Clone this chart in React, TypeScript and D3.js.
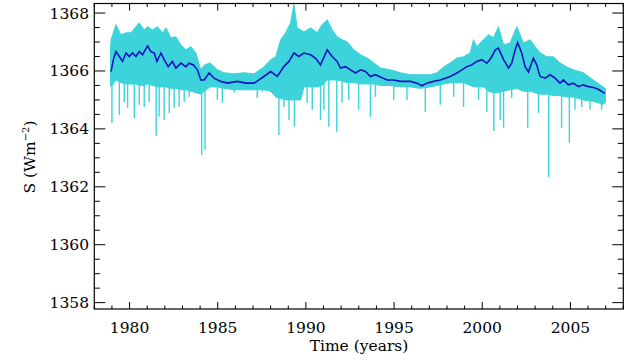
import React from 'react';
import * as d3 from 'd3';

// Smoothed (blue) series
const blueYears = [1978.95,1979.08,1979.23,1979.42,1979.60,1979.80,1979.98,1980.17,1980.36,1980.55,1980.74,1981.02,1981.21,1981.40,1981.55,1981.78,1981.96,1982.19,1982.43,1982.63,1982.91,1983.19,1983.38,1983.62,1983.85,1984.04,1984.23,1984.51,1984.79,1985.17,1985.55,1986.11,1986.59,1987.06,1987.34,1987.62,1988.00,1988.38,1988.75,1989.04,1989.32,1989.60,1989.89,1990.27,1990.55,1990.83,1991.21,1991.49,1991.77,1991.96,1992.25,1992.53,1992.81,1993.10,1993.38,1993.66,1993.94,1994.23,1994.60,1994.98,1995.36,1995.93,1996.30,1996.58,1996.86,1997.24,1997.62,1997.91,1998.19,1998.56,1998.85,1999.13,1999.41,1999.69,1999.98,2000.26,2000.49,2000.74,2000.92,2001.21,2001.49,2001.67,2001.87,2002.01,2002.24,2002.43,2002.62,2002.90,2003.09,2003.28,2003.57,2003.85,2004.13,2004.41,2004.60,2004.88,2005.17,2005.45,2005.73,2006.02,2006.30,2006.58,2006.86,2006.96];
const blueValues = [1365.98,1366.39,1366.67,1366.50,1366.33,1366.62,1366.50,1366.62,1366.50,1366.67,1366.56,1366.87,1366.67,1366.62,1366.33,1366.62,1366.39,1366.15,1366.33,1366.10,1366.27,1366.15,1366.27,1366.21,1366.04,1365.69,1365.69,1365.93,1365.75,1365.64,1365.58,1365.64,1365.58,1365.58,1365.69,1365.81,1365.98,1365.81,1366.15,1366.33,1366.62,1366.50,1366.62,1366.56,1366.44,1366.21,1366.73,1366.50,1366.33,1366.10,1366.15,1366.04,1365.93,1366.04,1365.98,1365.81,1365.87,1365.79,1365.69,1365.69,1365.64,1365.64,1365.58,1365.49,1365.58,1365.64,1365.69,1365.75,1365.81,1365.93,1366.04,1366.15,1366.21,1366.33,1366.39,1366.27,1366.44,1366.73,1366.79,1366.39,1366.10,1366.27,1366.73,1366.98,1366.62,1366.15,1365.97,1366.44,1366.21,1365.81,1365.75,1365.87,1365.75,1365.58,1365.69,1365.52,1365.58,1365.46,1365.52,1365.46,1365.43,1365.37,1365.26,1365.23];

// Daily (cyan) series: sample times, peak values, bottom of the dense band
const cyanYears = [1978.92,1978.95,1979.23,1979.51,1979.80,1980.08,1980.36,1980.55,1980.83,1981.02,1981.30,1981.58,1981.87,1982.06,1982.34,1982.63,1982.91,1983.19,1983.47,1983.76,1984.04,1984.23,1984.57,1984.98,1985.36,1985.93,1986.49,1987.06,1987.62,1988.00,1988.29,1988.57,1988.85,1989.13,1989.32,1989.50,1989.70,1989.89,1990.27,1990.64,1990.92,1991.21,1991.49,1991.77,1992.05,1992.34,1992.72,1993.10,1993.47,1993.85,1994.23,1994.79,1995.36,1995.93,1996.45,1997.06,1997.43,1997.81,1998.19,1998.56,1998.94,1999.32,1999.51,1999.69,2000.07,2000.36,2000.64,2000.92,2001.21,2001.58,2001.96,2002.34,2002.72,2003.00,2003.28,2003.66,2004.03,2004.41,2004.79,2005.17,2005.73,2006.30,2006.86,2006.98];
const cyanHigh = [1366.80,1367.08,1367.60,1367.25,1367.32,1367.32,1367.53,1367.66,1367.42,1367.53,1367.42,1367.53,1367.32,1367.49,1367.15,1367.18,1366.90,1366.73,1366.84,1366.63,1366.04,1366.20,1366.28,1366.04,1365.94,1365.90,1365.94,1365.90,1366.14,1366.39,1366.49,1367.08,1367.32,1367.66,1368.30,1367.50,1367.42,1367.35,1367.49,1367.32,1367.60,1367.77,1367.42,1367.18,1367.08,1367.01,1366.73,1366.56,1366.45,1366.28,1366.10,1366.04,1365.94,1365.87,1365.87,1365.87,1365.94,1366.14,1366.28,1366.45,1366.49,1366.63,1367.08,1366.84,1367.08,1367.25,1367.15,1367.53,1366.90,1366.97,1367.53,1366.97,1367.08,1366.84,1366.63,1366.49,1366.49,1366.28,1366.14,1366.04,1365.94,1365.69,1365.45,1365.40];
const cyanLow = [1365.50,1365.45,1365.69,1365.60,1365.55,1365.55,1365.55,1365.50,1365.50,1365.55,1365.50,1365.45,1365.45,1365.45,1365.40,1365.40,1365.35,1365.35,1365.30,1365.25,1365.20,1365.30,1365.45,1365.45,1365.40,1365.35,1365.35,1365.35,1365.35,1365.30,1365.10,1365.05,1365.00,1365.00,1365.00,1365.00,1365.00,1365.45,1365.45,1365.45,1365.50,1365.69,1365.69,1365.69,1365.65,1365.60,1365.60,1365.55,1365.55,1365.55,1365.50,1365.50,1365.45,1365.45,1365.40,1365.45,1365.50,1365.55,1365.59,1365.59,1365.59,1365.50,1365.45,1365.45,1365.45,1365.30,1365.25,1365.25,1365.30,1365.35,1365.40,1365.30,1365.30,1365.25,1365.20,1365.20,1365.15,1365.15,1365.10,1365.10,1365.00,1364.95,1364.85,1364.90];

// Daily (cyan) series: downward excursions
const spikeYears = [1979.00,1979.42,1979.70,1979.89,1980.27,1980.55,1980.83,1981.11,1981.51,1981.68,1981.96,1982.25,1982.53,1982.81,1983.10,1983.38,1984.09,1984.28,1984.98,1985.26,1985.93,1987.24,1987.53,1988.47,1988.75,1989.04,1989.35,1989.60,1990.07,1990.36,1990.83,1991.02,1991.30,1991.75,1992.05,1992.43,1992.99,1993.66,1993.94,1994.98,1995.73,1996.77,1997.62,1998.38,1998.94,1999.79,2000.26,2000.66,2001.02,2001.21,2001.67,2002.58,2003.19,2003.77,2004.50,2004.94,2005.26,2005.64,2006.11,2006.49,2006.77];
const spikeValues = [1364.20,1364.48,1364.93,1364.73,1364.38,1364.83,1364.76,1364.93,1363.76,1364.42,1364.31,1364.55,1364.73,1364.76,1364.93,1365.11,1363.10,1363.27,1365.00,1364.90,1365.25,1365.07,1365.28,1363.79,1364.76,1364.31,1364.07,1365.00,1364.90,1364.66,1364.31,1364.66,1364.07,1363.90,1364.90,1365.00,1364.66,1364.42,1365.11,1365.00,1365.00,1364.59,1364.83,1365.11,1364.76,1365.00,1364.59,1363.93,1364.31,1364.04,1365.07,1364.04,1364.55,1362.34,1364.04,1363.52,1364.66,1364.76,1364.66,1364.90,1364.66];

const xTickYears = [1980, 1985, 1990, 1995, 2000, 2005];
const yTickValues = [1358, 1360, 1362, 1364, 1366, 1368];

export default function App() {
  const W = 630, H = 360;
  const left = 94.3, right = 623.3, top = 3.5, bottom = 309;
  const x = d3.scaleLinear().domain([1978, 2008]).range([left, right]);
  const y = d3.scaleLinear().domain([1357.78, 1368.33]).range([bottom, top]);

  const idx = cyanYears.map((_, i) => i);
  const band = d3.area<number>()
    .x(i => x(cyanYears[i]))
    .y0(i => y(cyanLow[i]))
    .y1(i => y(cyanHigh[i]))(idx) || '';
  const loAt = d3.scaleLinear().domain(cyanYears).range(cyanLow).clamp(true);

  const blueLine = d3.line<number>()
    .x(i => x(blueYears[i]))
    .y(i => y(blueValues[i]))(blueYears.map((_, i) => i)) || '';

  const xMinor = d3.range(1978, 2009, 1).filter(v => v % 5 !== 0);
  const yMinor = d3.range(1358, 1368.01, 0.5).filter(v => Math.abs(v % 2) > 0.01);

  const font = "'DejaVu Serif', serif";
  const cyan = '#3dd3da';
  const blue = '#1212c0';
  const fs = 15.5;

  return (
    <svg width={W} height={H} style={{ position: 'fixed', left: 0, top: 0, background: '#fff' }}>
      <defs>
        <clipPath id="plot">
          <rect x={left} y={top} width={right - left} height={bottom - top} />
        </clipPath>
      </defs>
      <g clipPath="url(#plot)">
        <path d={band} fill={cyan} stroke={cyan} strokeWidth={1} strokeLinejoin="bevel" />
        {spikeYears.map((t, i) => (
          <line key={i} x1={x(t)} x2={x(t)} y1={y(loAt(t) + 0.1)} y2={y(spikeValues[i])} stroke={cyan} strokeWidth={1.4} />
        ))}
        <path d={blueLine} fill="none" stroke={blue} strokeWidth={1.6} />
      </g>
      <rect x={left} y={top} width={right - left} height={bottom - top} fill="none" stroke="#000" strokeWidth={1.2} />
      <g style={{ fontFamily: font }} fontSize={fs} fill="#000">
        {xTickYears.map(t => (
          <g key={t}>
            <line x1={x(t)} x2={x(t)} y1={bottom} y2={bottom - 7} stroke="#000" />
            <line x1={x(t)} x2={x(t)} y1={top} y2={top + 7} stroke="#000" />
            <text x={x(t)} y={333} textAnchor="middle">{t}</text>
          </g>
        ))}
        {xMinor.map(t => (
          <g key={'m' + t}>
            <line x1={x(t)} x2={x(t)} y1={bottom} y2={bottom - 3.5} stroke="#000" />
            <line x1={x(t)} x2={x(t)} y1={top} y2={top + 3.5} stroke="#000" />
          </g>
        ))}
        {yTickValues.map(v => (
          <g key={v}>
            <line x1={left} x2={left + 11} y1={y(v)} y2={y(v)} stroke="#000" />
            <line x1={right} x2={right - 11} y1={y(v)} y2={y(v)} stroke="#000" />
            <text x={89} y={y(v) + 5.5} textAnchor="end">{v}</text>
          </g>
        ))}
        {yMinor.map(v => (
          <g key={'m' + v}>
            <line x1={left} x2={left + 5.5} y1={y(v)} y2={y(v)} stroke="#000" />
            <line x1={right} x2={right - 5.5} y1={y(v)} y2={y(v)} stroke="#000" />
          </g>
        ))}
        <text x={359} y={351} textAnchor="middle">Time (years)</text>
        <text transform="translate(34.5,157) rotate(-90)" textAnchor="middle">
          S (Wm<tspan dy={-6} fontSize={10}>−2</tspan><tspan dy={6}>)</tspan>
        </text>
      </g>
    </svg>
  );
}
